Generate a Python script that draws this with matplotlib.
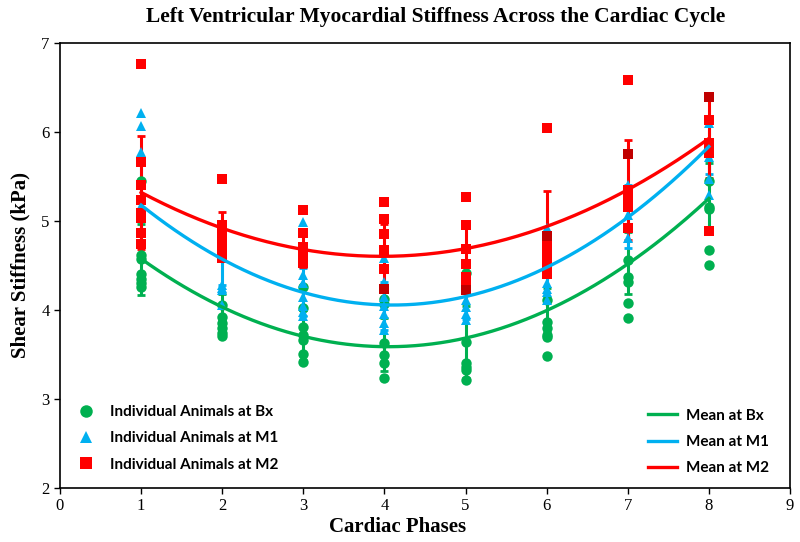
import numpy as np
import matplotlib
matplotlib.use("Agg")
import matplotlib.pyplot as plt
from matplotlib.lines import Line2D

phases = [1, 2, 3, 4, 5, 6, 7, 8]

# Individual animals (kPa) per phase
bx_points = [
    [5.45, 4.62, 4.57, 4.40, 4.35, 4.30, 4.26],
    [4.06, 3.92, 3.85, 3.80, 3.74, 3.71],
    [4.26, 4.02, 3.81, 3.72, 3.66, 3.51, 3.42],
    [4.12, 4.07, 3.63, 3.49, 3.40, 3.24],
    [4.42, 3.64, 3.40, 3.36, 3.33, 3.21],
    [4.11, 3.87, 3.80, 3.72, 3.70, 3.48],
    [4.56, 4.37, 4.32, 4.08, 3.91],
    [5.45, 5.16, 5.13, 4.67, 4.51],
]
m1_points = [
    [6.21, 6.07, 5.78, 5.17, 5.10, 5.05],
    [4.84, 4.28, 4.25, 4.22, 4.06],
    [4.99, 4.39, 4.30, 4.15, 4.05, 3.98, 3.93],
    [4.58, 4.32, 4.15, 4.05, 3.95, 3.85, 3.78],
    [4.22, 4.11, 4.03, 3.95, 3.89],
    [4.92, 4.50, 4.30, 4.24, 4.20, 4.11],
    [5.40, 5.07, 4.81],
    [6.13, 6.10, 5.72, 5.47, 5.29],
]
m2_points = [
    [6.76, 5.66, 5.41, 5.24, 5.09, 5.03, 4.87, 4.74],
    [5.47, 4.95, 4.85, 4.78, 4.72, 4.65, 4.58],
    [5.12, 4.86, 4.71, 4.65, 4.58, 4.53],
    [5.21, 5.02, 4.85, 4.67, 4.46],
    [5.27, 4.95, 4.69, 4.52, 4.37, 4.34],
    [6.05, 4.75, 4.65, 4.58, 4.50, 4.41],
    [6.58, 5.35, 5.30, 5.24, 5.16, 4.92],
    [6.13, 5.88, 5.76, 4.89],
]
# darker red animals
m2_dark_x = [4, 5, 6, 7, 8]
m2_dark_y = [4.24, 4.22, 4.83, 5.75, 6.39]

# Means and SD per phase
bx_mean = [4.57, 4.03, 3.72, 3.61, 3.64, 4.00, 4.53, 5.25]
bx_sd = [0.40, 0.15, 0.28, 0.30, 0.40, 0.25, 0.35, 0.40]
m1_mean = [5.18, 4.57, 4.20, 4.05, 4.15, 4.48, 5.05, 5.83]
m1_sd = [0.45, 0.29, 0.27, 0.27, 0.25, 0.35, 0.35, 0.30]
m2_mean = [5.32, 4.92, 4.68, 4.60, 4.70, 4.93, 5.35, 5.93]
m2_sd = [0.63, 0.18, 0.20, 0.37, 0.27, 0.41, 0.56, 0.45]

GREEN = "#00B050"
BLUE = "#00B0F0"
RED = "#FF0000"
DARKRED = "#C00000"

fig = plt.figure(figsize=(8, 5.42), dpi=100)
ax = fig.add_axes([0.075, 0.0996, 0.9125, 0.8211])

serif = "Liberation Serif"

def flat(points):
    xs, ys = [], []
    for p, vals in zip(phases, points):
        xs += [p] * len(vals)
        ys += vals
    return xs, ys

groups = [
    (bx_points, bx_mean, bx_sd, GREEN, "o", 7.5),
    (m1_points, m1_mean, m1_sd, BLUE, "^", 7.5),
    (m2_points, m2_mean, m2_sd, RED, "s", 7),
]
for pts, mean, sd, col, mk, ms in groups:
    ax.errorbar(phases, mean, yerr=sd, fmt="none", ecolor=col, elinewidth=2.2,
                capsize=3, capthick=2, zorder=2)
for pts, mean, sd, col, mk, ms in groups:
    xs, ys = flat(pts)
    ax.plot(xs, ys, linestyle="none", marker=mk, color=col, markersize=ms,
            markeredgewidth=0, zorder=3)
ax.plot(m2_dark_x, m2_dark_y, linestyle="none", marker="s", color=DARKRED,
        markersize=7, markeredgewidth=0, zorder=3)

xx = np.linspace(1, 8, 200)
for pts, mean, sd, col, mk, ms in groups:
    coef = np.polyfit(phases, mean, 2)
    ax.plot(xx, np.polyval(coef, xx), color=col, lw=2.4, zorder=4)

ax.set_xlim(0, 9)
ax.set_ylim(2, 7)
ax.set_xticks(range(0, 10))
ax.set_yticks(range(2, 8))
for lbl in ax.get_xticklabels() + ax.get_yticklabels():
    lbl.set_fontfamily(serif)
    lbl.set_fontsize(12)
ax.tick_params(direction="out", length=4, width=1, colors="black")
for s in ax.spines.values():
    s.set_linewidth(1.2)
    s.set_color("black")

ax.set_xlabel("Cardiac Phases", fontfamily=serif, fontweight="bold", fontsize=15)
ax.xaxis.set_label_coords(0.463, -0.066)
ax.set_ylabel("Shear Stiffness (kPa)", fontfamily=serif, fontweight="bold", fontsize=15, labelpad=8)
fig.text(0.545, 0.968, "Left Ventricular Myocardial Stiffness Across the Cardiac Cycle",
         ha="center", va="center", fontfamily=serif, fontweight="bold", fontsize=15.5)

leg_font = {"family": "Lato", "weight": "bold", "size": 11}
h1 = [
    Line2D([], [], linestyle="none", marker="o", color=GREEN, markersize=9, markeredgewidth=0),
    Line2D([], [], linestyle="none", marker="^", color=BLUE, markersize=9, markeredgewidth=0),
    Line2D([], [], linestyle="none", marker="s", color=RED, markersize=8, markeredgewidth=0),
]
leg1 = ax.legend(h1, ["Individual Animals at Bx", "Individual Animals at M1", "Individual Animals at M2"],
                 loc="lower left", bbox_to_anchor=(0.0, 0.013), frameon=False, prop=leg_font,
                 labelspacing=0.8, handletextpad=0.6, borderaxespad=0.3)
ax.add_artist(leg1)
h2 = [Line2D([], [], color=c, lw=2.4) for c in (GREEN, BLUE, RED)]
ax.legend(h2, ["Mean at Bx", "Mean at M1", "Mean at M2"], loc="lower right",
          bbox_to_anchor=(0.99, -0.002), frameon=False, prop=leg_font,
          labelspacing=0.8, handlelength=1.9, handletextpad=0.6)

fig.savefig("out.png", dpi=100)
